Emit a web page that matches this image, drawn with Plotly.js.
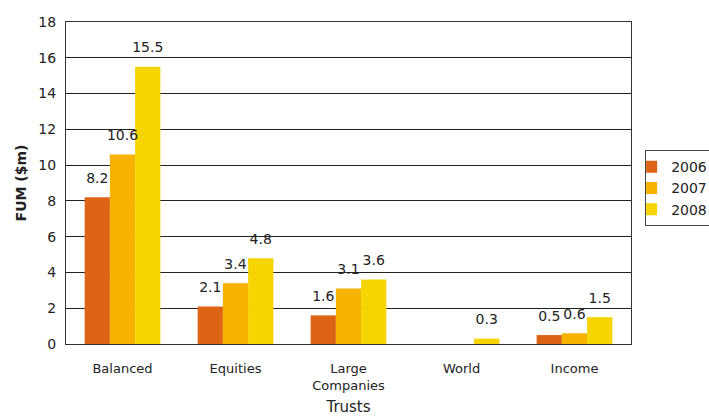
<!DOCTYPE html>
<html>
<head>
<meta charset="utf-8">
<script src="https://cdn.plot.ly/plotly-3.0.1.min.js"></script>
<style>
  html, body { margin: 0; padding: 0; background: #fff; }
  #chart { width: 709px; height: 416px; }
</style>
</head>
<body>
<div id="chart"></div>
<script>
// Funds under management per trust, in $m
const trusts = ['Balanced', 'Equities', 'Large<br>Companies', 'World', 'Income'];
const years = ['2006', '2007', '2008'];
const fum2006 = [8.2, 2.1, 1.6, null, 0.5];
const fum2007 = [10.6, 3.4, 3.1, null, 0.6];
const fum2008 = [15.5, 4.8, 3.6, 0.3, 1.5];
const yTicks = [0, 2, 4, 6, 8, 10, 12, 14, 16, 18];

const colors = ['#dc6414', '#f7b200', '#f5d400'];
const series = [fum2006, fum2007, fum2008];
const family = 'DejaVu Sans, sans-serif';
const ink = '#222';
const gap = 0.33;

// the bars themselves
const bars = series.map((vals, i) => ({
  type: 'bar',
  name: years[i],
  x: trusts,
  y: vals,
  marker: { color: colors[i] },
  hoverinfo: 'x+y+name'
}));

// value labels, grouped the same way as the bars and lifted a little above them
const labels = series.map((vals, i) => ({
  type: 'scatter',
  mode: 'markers+text',
  name: years[i],
  showlegend: false,
  x: trusts,
  y: vals,
  marker: { size: 16, opacity: 0, color: colors[i] },
  text: vals.map(v => (v === null ? '' : v.toFixed(1))),
  textposition: 'top center',
  textfont: { family: family, size: 14, color: ink },
  cliponaxis: false,
  hoverinfo: 'skip'
}));

const layout = {
  width: 709,
  height: 416,
  margin: { l: 66, r: 78, t: 22, b: 72, autoexpand: false },
  paper_bgcolor: '#fff',
  plot_bgcolor: '#fff',
  font: { family: family, size: 13, color: ink },
  barmode: 'group',
  bargap: gap,
  bargroupgap: 0,
  scattermode: 'group',
  scattergap: gap,
  showlegend: true,
  legend: {
    x: 1.025, y: 0.602, xanchor: 'left', yanchor: 'top',
    bordercolor: '#444', borderwidth: 1,
    font: { family: family, size: 14, color: ink },
    tracegroupgap: 0,
    itemwidth: 30,
    indentation: -15
  },
  xaxis: {
    showline: true, linecolor: '#333', linewidth: 1, mirror: true,
    ticks: 'outside', ticklen: 12, tickcolor: 'rgba(0,0,0,0)',
    tickfont: { family: family, size: 13, color: ink },
    title: { text: 'Trusts', font: { family: family, size: 15, color: ink }, standoff: 12 }
  },
  yaxis: {
    range: [0, 18],
    tickvals: yTicks,
    showline: true, linecolor: '#333', linewidth: 1, mirror: true,
    showgrid: true, gridcolor: '#222', gridwidth: 1,
    zeroline: false,
    ticks: 'outside', ticklen: 6, tickcolor: 'rgba(0,0,0,0)',
    tickfont: { family: family, size: 14, color: ink },
    title: { text: 'FUM ($m)', font: { family: family, size: 14, color: ink, weight: 'bold' }, standoff: 8 }
  }
};

Plotly.newPlot('chart', bars.concat(labels), layout, { displayModeBar: false, staticPlot: true });
</script>
</body>
</html>
